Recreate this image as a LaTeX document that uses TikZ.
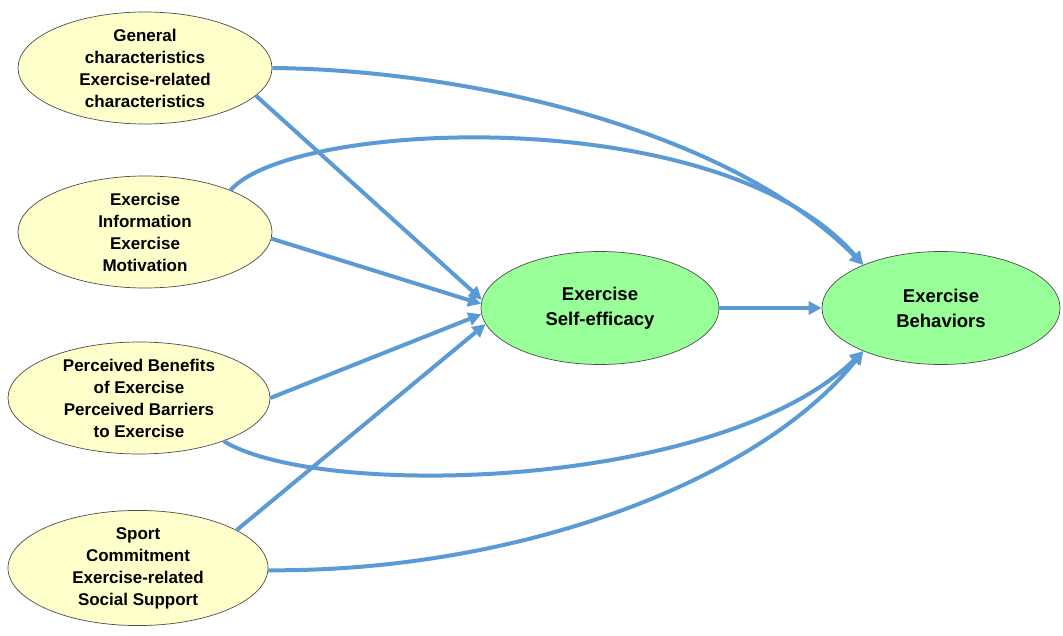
\documentclass[tikz,border=0pt]{standalone}
\usepackage{fontspec}
\setmainfont{Liberation Sans}
\usetikzlibrary{shapes.geometric,arrows.meta}
\definecolor{arr}{HTML}{5B9BD5}
\definecolor{yel}{HTML}{FFFFCC}
\definecolor{grn}{HTML}{99FF99}
\begin{document}
\begin{tikzpicture}[x=1pt,y=-1pt,
  el/.style={ellipse,draw=black!70,line width=0.7pt,inner sep=0pt,align=center,
    font=\fontsize{17}{22}\selectfont\bfseries},
  yy/.style={el,fill=yel,minimum width=254pt,minimum height=112pt},
  gg/.style={el,fill=grn,minimum width=238pt,minimum height=113pt,font=\fontsize{18.5}{25}\selectfont\bfseries},
  ar/.style={draw=arr,line width=4pt,-{Triangle[length=13pt,width=13pt]}}]
\useasboundingbox (0,0) rectangle (1063,636);
\node[yy] (a) at (145,68) {General\\characteristics\\Exercise-related\\characteristics};
\node[yy] (b) at (145,232) {Exercise\\Information\\Exercise\\Motivation};
\node[yy,minimum width=262pt] (c) at (139,398) {Perceived Benefits\\of Exercise\\Perceived Barriers\\to Exercise};
\node[yy,minimum width=260pt] (d) at (138,568) {Sport\\Commitment\\Exercise-related\\Social Support};
\node[gg] (s) at (600,308) {Exercise\\Self-efficacy};
\node[gg] (e) at (941,308) {Exercise\\Behaviors};
\draw[ar] (a.east) .. controls (470,70) and (730,130) .. (e.151);
\draw[ar] (a.-14) -- (s.176);
\draw[ar] (b.26) .. controls (290,120) and (720,100) .. (e.151);
\draw[ar] (b.-3) -- (s.178);
\draw[ar] (c.east) -- (s.183);
\draw[ar] (c.-27) .. controls (320,500) and (720,490) .. (e.209);
\draw[ar] (d.21) -- (s.188);
\draw[ar] (d.-1) .. controls (520,572) and (760,480) .. (e.209);
\draw[ar] (s.east) -- (e.west);
\end{tikzpicture}
\end{document}
